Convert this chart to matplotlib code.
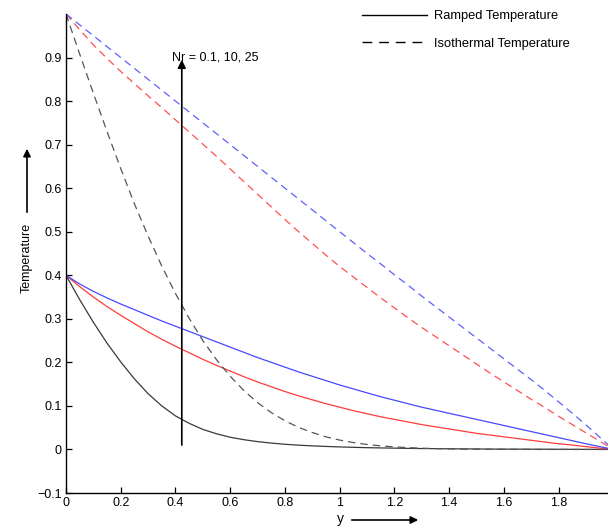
import matplotlib
matplotlib.use("Agg")
import matplotlib.pyplot as plt
from matplotlib.lines import Line2D
from matplotlib.patches import FancyArrowPatch

plt.rcParams['font.family'] = ['Liberation Sans', 'DejaVu Sans']

# ---------------- data ----------------
y_grid = [0.00, 0.05, 0.10, 0.15, 0.20, 0.25, 0.30, 0.35, 0.40, 0.45,
          0.50, 0.55, 0.60, 0.65, 0.70, 0.75, 0.80, 0.85, 0.90, 0.95,
          1.00, 1.05, 1.10, 1.15, 1.20, 1.25, 1.30, 1.35, 1.40, 1.45,
          1.50, 1.55, 1.60, 1.65, 1.70, 1.75, 1.80, 1.85, 1.90, 1.95, 2.00]

# Ramped temperature, Nr = 0.1, 10, 25
ramped_nr01 = [0.400, 0.344, 0.292, 0.244, 0.201, 0.162, 0.128, 0.100, 0.077, 0.060,
               0.046, 0.036, 0.028, 0.0224, 0.018, 0.0146, 0.0119, 0.0098, 0.0082, 0.0069,
               0.0058, 0.0049, 0.0041, 0.0035, 0.0030, 0.0025, 0.0021, 0.0018, 0.0015, 0.0013,
               0.0011, 0.0009, 0.0008, 0.0007, 0.0006, 0.0005, 0.0004, 0.0003, 0.0002, 0.0001, 0.0]
ramped_nr10 = [0.400, 0.374, 0.350, 0.328, 0.308, 0.289, 0.270, 0.253, 0.237, 0.222,
               0.207, 0.193, 0.180, 0.167, 0.155, 0.144, 0.133, 0.123, 0.114, 0.105,
               0.097, 0.089, 0.082, 0.075, 0.069, 0.063, 0.057, 0.052, 0.047, 0.042,
               0.037, 0.033, 0.029, 0.025, 0.021, 0.017, 0.013, 0.010, 0.0065, 0.003, 0.0]
ramped_nr25 = [0.400, 0.380, 0.363, 0.348, 0.334, 0.321, 0.308, 0.295, 0.283, 0.271,
               0.259, 0.247, 0.235, 0.223, 0.211, 0.200, 0.189, 0.178, 0.168, 0.158,
               0.148, 0.139, 0.130, 0.121, 0.113, 0.105, 0.097, 0.090, 0.083, 0.076,
               0.069, 0.062, 0.055, 0.048, 0.041, 0.034, 0.027, 0.020, 0.013, 0.0065, 0.0]

# Isothermal temperature, Nr = 0.1, 10, 25
iso_nr01 = [1.000, 0.908, 0.818, 0.730, 0.645, 0.564, 0.490, 0.421, 0.358, 0.301,
            0.250, 0.206, 0.168, 0.135, 0.1075, 0.0845, 0.0659, 0.0506, 0.0388, 0.0289,
            0.0215, 0.0158, 0.0114, 0.0082, 0.0059, 0.0041, 0.0028, 0.0019, 0.0013, 0.0008,
            0.0005, 0.0003, 0.0002, 0.0001, 0.0001, 0.0, 0.0, 0.0, 0.0, 0.0, 0.0]
iso_nr10 = [1.000, 0.964, 0.929, 0.898, 0.868, 0.840, 0.812, 0.785, 0.757, 0.729,
            0.701, 0.673, 0.644, 0.615, 0.586, 0.557, 0.528, 0.500, 0.473, 0.446,
            0.420, 0.396, 0.372, 0.348, 0.325, 0.302, 0.280, 0.259, 0.238, 0.217,
            0.196, 0.175, 0.155, 0.135, 0.115, 0.096, 0.076, 0.057, 0.038, 0.019, 0.0]
iso_nr25 = [1.000, 0.975, 0.950, 0.925, 0.900, 0.875, 0.850, 0.825, 0.800, 0.775,
            0.750, 0.725, 0.700, 0.675, 0.650, 0.625, 0.600, 0.575, 0.550, 0.525,
            0.500, 0.475, 0.450, 0.426, 0.401, 0.377, 0.352, 0.328, 0.304, 0.280,
            0.256, 0.232, 0.208, 0.184, 0.160, 0.135, 0.109, 0.083, 0.056, 0.028, 0.0]

x_ticks = [0, 0.2, 0.4, 0.6, 0.8, 1.0, 1.2, 1.4, 1.6, 1.8]
x_tick_labels = ['0', '0.2', '0.4', '0.6', '0.8', '1', '1.2', '1.4', '1.6', '1.8']
y_ticks = [-0.1, 0, 0.1, 0.2, 0.3, 0.4, 0.5, 0.6, 0.7, 0.8, 0.9]
y_tick_labels = ['\u22120.1', '0', '0.1', '0.2', '0.3', '0.4', '0.5', '0.6', '0.7', '0.8', '0.9']

annot_text = 'Nr = 0.1, 10, 25'
arrow_x = 0.423
arrow_y0, arrow_y1 = 0.01, 0.895

# ---------------- figure ----------------
W, H = 608, 528
fig = plt.figure(figsize=(W / 100, H / 100), dpi=100)
ax = fig.add_axes([66 / W, 35 / H, (W - 66) / W, (493 - 14) / H])

lw = 0.9
dash = (6, 4)

ax.plot(y_grid, ramped_nr01, color='#3a3a3a', lw=lw)
ax.plot(y_grid, ramped_nr10, color='#ff3b3b', lw=lw)
ax.plot(y_grid, ramped_nr25, color='#4848ff', lw=lw)
ax.plot(y_grid, iso_nr01, color='#555555', lw=lw, dashes=dash)
ax.plot(y_grid, iso_nr10, color='#ff5050', lw=lw, dashes=dash)
ax.plot(y_grid, iso_nr25, color='#6060ff', lw=lw, dashes=dash)

ax.set_xlim(0, 1.98)
ax.set_ylim(-0.1, 1.0)
ax.set_xticks(x_ticks)
ax.set_xticklabels(x_tick_labels)
ax.set_yticks(y_ticks)
ax.set_yticklabels(y_tick_labels)
ax.tick_params(direction='in', length=4, width=0.9, labelsize=9, pad=3)
for s in ['top', 'right']:
    ax.spines[s].set_visible(False)
for s in ['left', 'bottom']:
    ax.spines[s].set_linewidth(1.0)

# annotation arrow inside plot
ax.annotate('', xy=(arrow_x, arrow_y1), xytext=(arrow_x, arrow_y0),
            arrowprops=dict(arrowstyle='-|>', color='black', lw=1.2,
                            mutation_scale=12, shrinkA=0, shrinkB=0))
ax.text(0.387, 0.90, annot_text, fontsize=9, va='center', ha='left')

# legend
handles = [Line2D([], [], color='black', lw=1.0),
           Line2D([], [], color='black', lw=1.0, dashes=(7, 5))]
fig.legend(handles, ['Ramped Temperature', 'Isothermal Temperature'],
           loc='upper left', bbox_to_anchor=(362 / W, 1 - 10 / H),
           frameon=False, fontsize=9.3, handlelength=5.0, handletextpad=0.6,
           labelspacing=1.2, borderpad=0, borderaxespad=0)

# axis labels with arrows
fig.text(27 / W, 1 - 258 / H, 'Temperature', rotation=90, fontsize=9,
         ha='center', va='center')
fig.patches.append(FancyArrowPatch(
    (27 / W, 1 - 215 / H), (27 / W, 1 - 146 / H), transform=fig.transFigure,
    arrowstyle='-|>', mutation_scale=11, color='black', lw=1.2))
fig.text(340 / W, 1 - 519 / H, 'y', fontsize=10, ha='center', va='center')
fig.patches.append(FancyArrowPatch(
    (349 / W, 1 - 520 / H), (421 / W, 1 - 520 / H), transform=fig.transFigure,
    arrowstyle='-|>', mutation_scale=11, color='black', lw=1.2))

fig.savefig('out.png', dpi=100)
